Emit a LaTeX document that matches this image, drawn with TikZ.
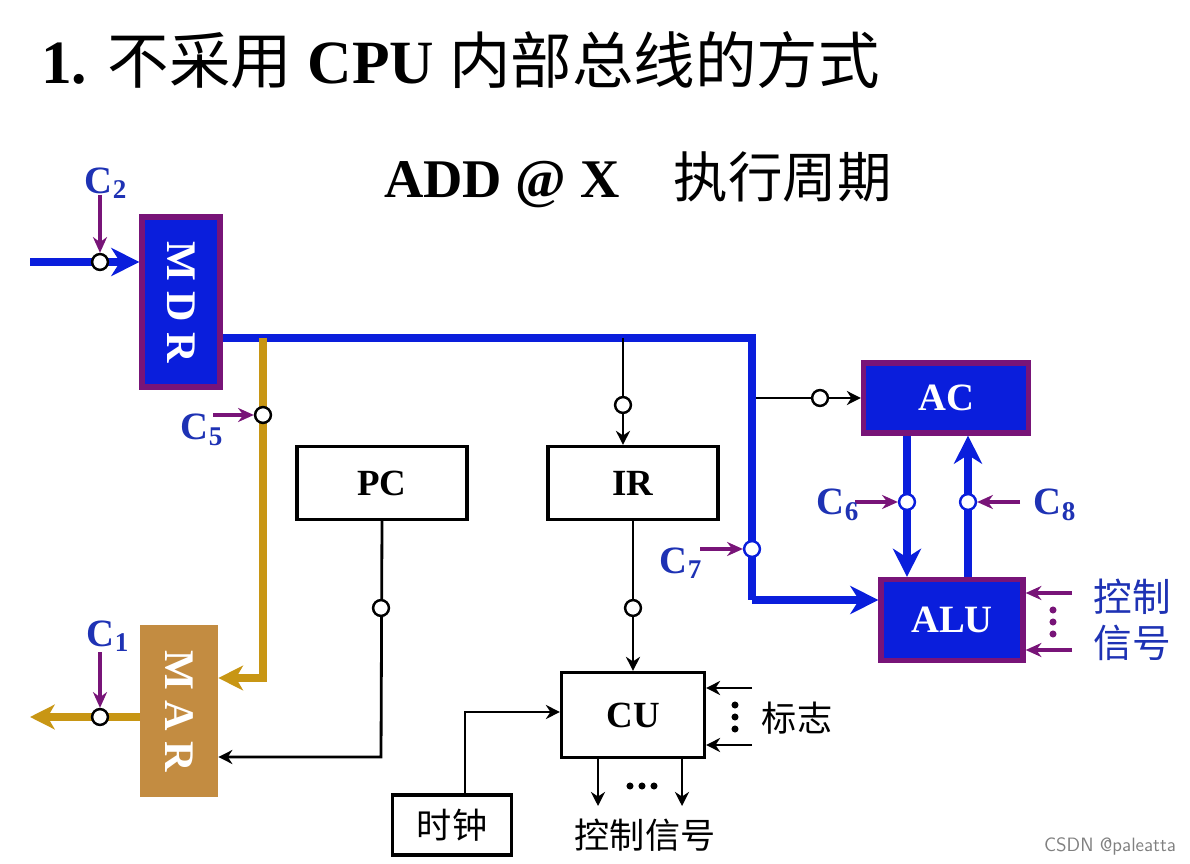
\documentclass[tikz,border=0pt]{standalone}
\usepackage{fontspec}
\setmainfont{Liberation Serif}
\newfontfamily\cjk{Noto Sans CJK SC}
\usetikzlibrary{arrows.meta}
\definecolor{busblue}{RGB}{10,30,220}
\definecolor{regpurple}{RGB}{120,20,120}
\definecolor{gold}{RGB}{200,150,20}
\definecolor{martan}{RGB}{195,140,65}
\definecolor{lblue}{RGB}{30,50,180}
\tikzset{
  reg/.style={draw=regpurple,line width=3pt,fill=busblue,text=white,inner sep=0pt,font=\fontsize{22}{22}\bfseries\selectfont},
  box/.style={draw,line width=1.8pt,fill=white,inner sep=0pt,font=\fontsize{21}{21}\bfseries\selectfont},
  bus/.style={busblue,line width=4.5pt,-{Stealth[length=16pt,width=16pt,inset=5pt]}},
  wire/.style={line width=1.6pt,-{Stealth[length=8pt,width=8pt]}},
  ctl/.style={regpurple,line width=1.8pt,-{Stealth[length=9pt,width=8pt]}},
  gate/.style={circle,draw,line width=1.4pt,fill=white,inner sep=0pt,minimum size=9pt},
  clab/.style={text=lblue,font=\fontsize{22}{22}\bfseries\selectfont},
  dot/.style={circle,fill,inner sep=0pt,minimum size=4pt}
}
\begin{document}
\begin{tikzpicture}[x=0.02cm,y=-0.02cm]
\useasboundingbox (0,0) rectangle (1190,864);
% titles
\node[anchor=west,font=\fontsize{35}{35}\bfseries\selectfont] (title) at (35,60) {1. {\cjk\mdseries 不采用} CPU {\cjk\mdseries 内部总线的方式}};
\node[font=\fontsize{31}{31}\bfseries\selectfont] (sub) at (638,180) {ADD @ X\quad{\cjk\mdseries 执行周期}};
% registers
\node[reg,minimum width=1.56cm,minimum height=3.4cm] (mdr) at (181,302) {};
\node[rotate=-90,text=white,font=\fontsize{24}{24}\bfseries\selectfont] at (mdr) {M D R};
\node[fill=martan,minimum width=1.56cm,minimum height=3.44cm,inner sep=0pt] (mar) at (179,711) {};
\node[rotate=-90,text=white,font=\fontsize{24}{24}\bfseries\selectfont] at (mar) {M A R};
\node[box,minimum width=3.4cm,minimum height=1.46cm] (pc) at (382,483) {PC};
\node[box,minimum width=3.4cm,minimum height=1.46cm] (ir) at (633,483) {IR};
\node[box,minimum width=2.86cm,minimum height=1.7cm] (cu) at (633,715) {CU};
\node[box,minimum width=2.38cm,minimum height=1.2cm,font=\fontsize{20}{20}\cjk\selectfont] (clk) at (452,825) {时钟};
\node[reg,minimum width=3.3cm,minimum height=1.4cm] (ac) at (946,398) {AC};
\node[reg,minimum width=2.84cm,minimum height=1.62cm] (alu) at (952,620) {ALU};
% bus corners
\coordinate (b1) at (752,338);
\coordinate (b2) at (752,600);
\coordinate (in) at (30,262);
\coordinate (out) at (30,717);
% blue bus
\draw[busblue,line width=4.5pt] (mdr.east |- b1) -- (b1) -- (b2);
\draw[bus] (b2) -- (alu.west |- b2);
\draw[bus] (in) -- (mdr.west |- in);
\node[gate] (g2) at (100,262) {};
\draw[ctl] (100,195) -- (g2);
\node[clab] at (106,183) {C\textsubscript{2}};
% gold path to MAR
\draw[gold,line width=4pt,-{Stealth[length=14pt,width=14pt,inset=4pt]}] (263,338) -- (263,678) -- (mar.east |- 0,678);
\node[gate] (g5) at (263,415) {};
\draw[ctl] (213,415) -- (g5);
\node[clab] at (202,430) {C\textsubscript{5}};
\draw[gold,line width=4pt,-{Stealth[length=14pt,width=14pt,inset=4pt]}] (mar.west |- out) -- (out);
\node[gate] (g1) at (100,717) {};
\draw[ctl] (100,652) -- (g1);
\node[clab] at (108,636) {C\textsubscript{1}};
% PC to MAR
\draw[wire] (pc.south) -- (381,757) -- (mar.east |- 0,757);
\node[gate] at (381,608) {};
% bus to IR, IR to CU
\draw[wire] (623,338) -- (ir.north -| 623,0);
\node[gate] at (623,405) {};
\draw[wire] (ir.south) -- (cu.north);
\node[gate] at (633,608) {};
% clock to CU
\draw[wire] (clk.north -| 465,0) -- (465,712) -- (cu.west |- 0,712);
% flags
\draw[wire] (752,688) -- (cu.east |- 0,688);
\draw[wire] (752,745) -- (cu.east |- 0,745);
\foreach \y in {705,717,729} \node[dot] at (735,\y) {};
\node[font=\fontsize{20}{20}\cjk\selectfont] (flag) at (797,718) {标志};
% CU outputs
\draw[wire] (cu.south -| 598,0) -- (598,806);
\draw[wire] (cu.south -| 682,0) -- (682,806);
\foreach \x in {630,642,654} \node[dot] at (\x,786) {};
\node[font=\fontsize{20}{20}\cjk\selectfont] (cs) at (645,835) {控制信号};
% bus to AC
\draw[wire] (752,398) -- (ac.west);
\node[gate] at (820,398) {};
\draw[busblue,line width=4.5pt] (b1) -- (752,400);
% C7
\node[gate,draw=busblue] (g7) at (752,549) {};
\draw[ctl] (700,549) -- (g7);
\node[clab] at (681,563) {C\textsubscript{7}};
% AC <-> ALU
\draw[bus] (ac.south -| 907,0) -- (alu.north -| 907,0);
\draw[bus] (alu.north -| 968,0) -- (ac.south -| 968,0);
\node[gate,draw=busblue] (g6) at (907,502) {};
\node[gate,draw=busblue] (g8) at (968,502) {};
\draw[ctl] (855,502) -- (g6);
\draw[ctl] (1020,502) -- (g8);
\node[clab] at (838,505) {C\textsubscript{6}};
\node[clab] at (1055,505) {C\textsubscript{8}};
% ALU control
\draw[ctl] (1072,593) -- (alu.east |- 0,593);
\draw[ctl] (1072,650) -- (alu.east |- 0,650);
\foreach \y in {610,622,634} \node[dot,regpurple] at (1053,\y) {};
\node[text=lblue,font=\fontsize{22}{26}\cjk\selectfont,align=center] (alucs) at (1132,620) {控制\\信号};
% watermark
\node[text=gray,font=\fontsize{11}{11}\sffamily\selectfont] at (1110,846) {CSDN @paleatta};
\end{tikzpicture}
\end{document}
